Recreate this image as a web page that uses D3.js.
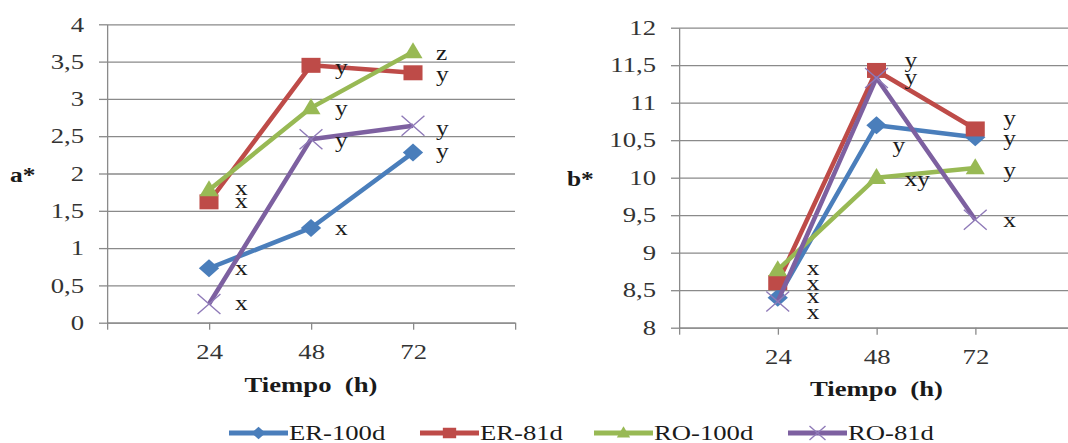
<!DOCTYPE html>
<html>
<head>
<meta charset="utf-8">
<script src="https://cdn.jsdelivr.net/npm/d3@7"></script>
<style>
  body { margin: 0; background: #fff; }
  svg { display: block; }
  text { font-family: "Liberation Serif", "Times New Roman", serif; }
  line, path { vector-effect: non-scaling-stroke; }
  .grid line { stroke: #8a8a8a; stroke-width: 1.3; }
  .axis path, .axis line { stroke: #8a8a8a; stroke-width: 1.3; }
  .axis text { font-size: 21px; fill: #333; }
  .letter { font-size: 20px; fill: #1a1a1a; }
  .title { font-size: 20px; font-weight: bold; fill: #1a1a1a; }
  .legend text { font-size: 21px; fill: #1a1a1a; }
</style>
</head>
<body>
<div class="chart-container"></div>
<script>
// categories (hours)
var hours = [24, 48, 72];
var seriesNames = ['ER-100d', 'ER-81d', 'RO-100d', 'RO-81d'];

// a* values
var aER100 = [0.73, 1.27, 2.28];
var aER81 = [1.62, 3.45, 3.35];
var aRO100 = [1.78, 2.88, 3.63];
var aRO81 = [0.25, 2.46, 2.64];
var aTicks = [0, 0.5, 1, 1.5, 2, 2.5, 3, 3.5, 4];
var aLetters = [['x', 'x', 'y'], ['x', 'y', 'y'], ['x', 'y', 'z'], ['x', 'y', 'y']];

// b* values
var bER100 = [8.40, 10.70, 10.54];
var bER81 = [8.60, 11.43, 10.65];
var bRO100 = [8.77, 10.00, 10.13];
var bRO81 = [8.35, 11.33, 9.44];
var bTicks = [8, 8.5, 9, 9.5, 10, 10.5, 11, 11.5, 12];
var bLetters = [['x', 'y', 'y'], ['x', 'y', 'y'], ['x', 'xy', 'y'], ['x', 'y', 'x']];

// letter placement next to each point: [dx, dy] in screen px
var aLetterPos = [
  [[26, 7], [24, 7], [23, 5]],
  [[26, 6], [24, 9], [23, 8]],
  [[26, 5], [24, 7.5], [23, 8]],
  [[26, 6], [24, 8], [23, 9]]
];
var bLetterPos = [
  [[29, 5], [16, 27], [28, 8]],
  [[29, 7], [28, -3], [28, -3.5]],
  [[29, 5], [28, 8], [28, 9]],
  [[29, 18], [28, 6], [28, 7]]
];

var lineColors = ['#4a7ebb', '#be4b48', '#98b954', '#7d60a0'];
var markerColors = ['#4a7ebb', '#be4b48', '#98b954', '#8f7ab8'];
var markerTypes = ['diamond', 'square', 'triangle', 'cross'];

// the picture is stretched sideways, so draw in a narrower space and scale x
var SX = 1.27;
var W = 1068, H = 443;
function px(v) { return v / SX; }

var fmt = function (d) { return String(d).replace('.', ','); };

var svg = d3.select('.chart-container').append('svg')
    .attr('width', W)
    .attr('height', H)
    .attr('viewBox', [0, 0, W / SX, H].join(' '))
    .attr('preserveAspectRatio', 'none');

function markerPath(type, big) {
  var k = big ? 1 : 0.7;
  if (type === 'diamond') { var hw = 8 * k, hh = 9 * k; return 'M0,' + (-hh) + 'L' + hw + ',0L0,' + hh + 'L' + (-hw) + ',0Z'; }
  if (type === 'square') { var s = 7.5 * k; return 'M' + (-s) + ',' + (-s) + 'H' + s + 'V' + s + 'H' + (-s) + 'Z'; }
  if (type === 'triangle') { var tw = 7.5 * k, th = 16 * k; return 'M0,' + (-th * 0.6) + 'L' + tw + ',' + (th * 0.4) + 'L' + (-tw) + ',' + (th * 0.4) + 'Z'; }
  var cw = 9 * k, ch = 10 * k;
  return 'M' + (-cw) + ',' + (-ch) + 'L' + cw + ',' + ch + 'M' + (-cw) + ',' + ch + 'L' + cw + ',' + (-ch);
}

function drawMarker(sel, i, big) {
  var p = sel.append('path').attr('d', markerPath(markerTypes[i], big));
  if (markerTypes[i] === 'cross') {
    p.attr('fill', 'none').attr('stroke', markerColors[i]).attr('stroke-width', 1.4);
  } else {
    p.attr('fill', markerColors[i]).attr('stroke', 'none');
  }
}

var panels = [
  { series: [aER100, aER81, aRO100, aRO81], letters: aLetters, letterPos: aLetterPos,
    yDomain: [0, 4], yTicks: aTicks, left: 107, right: 515, top: 24.3, bottom: 322.7,
    title: 'a*', titleX: 10, titleY: 182, xTitleY: 392 },
  { series: [bER100, bER81, bRO100, bRO81], letters: bLetters, letterPos: bLetterPos,
    yDomain: [8, 12], yTicks: bTicks, left: 679, right: 1074, top: 27.7, bottom: 327.7,
    title: 'b*', titleX: 567, titleY: 186, xTitleY: 396 }
];

panels.forEach(function (p) {
  var x = d3.scaleLinear().domain([0, 96]).range([px(p.left), px(p.right)]);
  var y = d3.scaleLinear().domain(p.yDomain).range([p.bottom, p.top]);
  var g = svg.append('g');

  // gridlines
  g.append('g')
      .attr('class', 'grid')
      .attr('transform', 'translate(' + x.range()[0] + ',0)')
      .call(d3.axisLeft(y).tickValues(p.yTicks).tickSize(-(x.range()[1] - x.range()[0])).tickFormat(''))
      .call(function (s) { s.select('.domain').remove(); });

  // y axis
  g.append('g')
      .attr('class', 'axis')
      .attr('transform', 'translate(' + x.range()[0] + ',0)')
      .call(d3.axisLeft(y).tickValues(p.yTicks).tickSize(px(8)).tickSizeOuter(0).tickPadding(px(15)).tickFormat(fmt));

  // x axis
  g.append('g')
      .attr('class', 'axis')
      .attr('transform', 'translate(0,' + p.bottom + ')')
      .call(d3.axisBottom(x).tickValues([0].concat(hours, [96])).tickSize(7).tickSizeOuter(0).tickPadding(14)
        .tickFormat(function (d) { return hours.indexOf(d) >= 0 ? d : ''; }));

  // axis titles
  g.append('text').attr('class', 'title')
      .attr('x', px(p.titleX)).attr('y', p.titleY)
      .text(p.title);
  g.append('text').attr('class', 'title')
      .attr('x', x(48)).attr('y', p.xTitleY)
      .attr('text-anchor', 'middle')
      .style('font-size', '21px')
      .text('Tiempo\u00a0 (h)');

  var line = d3.line()
      .x(function (d, i) { return x(hours[i]); })
      .y(function (d) { return y(d); });

  p.series.forEach(function (vals, si) {
    g.append('path')
        .attr('d', line(vals))
        .attr('fill', 'none')
        .attr('stroke', lineColors[si])
        .attr('stroke-width', 4.5)
        .attr('stroke-linejoin', 'round');

    vals.forEach(function (v, i) {
      var m = g.append('g').attr('transform', 'translate(' + x(hours[i]) + ',' + y(v) + ')');
      drawMarker(m, si, true);
    });
  });

  // significance letters
  p.series.forEach(function (vals, si) {
    vals.forEach(function (v, i) {
      var off = p.letterPos[si][i];
      g.append('text').attr('class', 'letter')
          .attr('x', x(hours[i]) + px(off[0]))
          .attr('y', y(v) + off[1])
          .text(p.letters[si][i]);
    });
  });
});

// legend
var legendStarts = [229, 420, 594, 788];
var legendY = 433;
var legend = svg.append('g').attr('class', 'legend');
seriesNames.forEach(function (name, i) {
  var x0 = legendStarts[i];
  var item = legend.append('g');
  item.append('line')
      .attr('x1', px(x0)).attr('x2', px(x0 + 59))
      .attr('y1', legendY).attr('y2', legendY)
      .attr('stroke', lineColors[i])
      .attr('stroke-width', 5);
  var m = item.append('g').attr('transform', 'translate(' + px(x0 + 29.5) + ',' + legendY + ')');
  drawMarker(m, i, false);
  item.append('text')
      .attr('x', px(x0 + 60))
      .attr('y', legendY + 7)
      .text(name);
});
</script>
</body>
</html>
